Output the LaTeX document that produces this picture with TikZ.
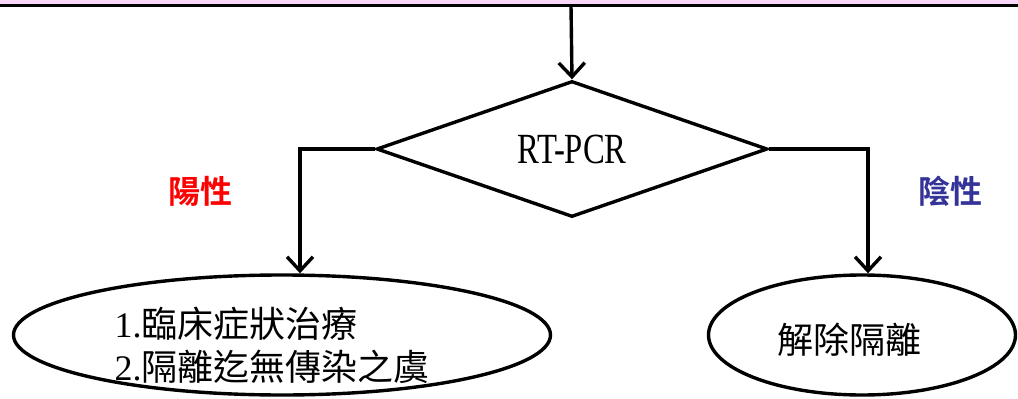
\documentclass[tikz,border=0pt]{standalone}
\usepackage{fontspec}
\setmainfont{Liberation Serif}
\newfontfamily\cjk[BoldFont={Noto Sans CJK TC Bold}]{Noto Sans CJK TC}
\newfontfamily\rtfont[FakeStretch=0.76]{Liberation Serif}
\usetikzlibrary{
  arrows.meta,
  positioning,
  shapes.geometric,
}
\definecolor{posred}{RGB}{255,0,0}
\definecolor{negblue}{RGB}{51,51,153}
\definecolor{strippink}{RGB}{248,215,248}
\tikzset{
  flow/.style = {line width=3.4pt,
      -{Straight Barb[length=14pt, width=26pt]}},
  decide/.style = {diamond, draw, line width=3.4pt, aspect=2.875,
      minimum width=391pt, minimum height=136pt,
      inner sep=0pt, font=\rtfont\fontsize{43}{43}\selectfont},
  oval/.style = {ellipse, draw, line width=3.4pt,
      minimum height=120pt, inner sep=0pt},
  ovaltext/.style = {align=left, inner sep=0pt,
      font=\cjk\fontsize{36}{43}\selectfont},
  verdict/.style = {inner sep=0pt,
      font=\cjk\bfseries\fontsize{32}{32}\selectfont},
}

\begin{document}
\begin{tikzpicture}[x=1pt, y=-1pt]
  \useasboundingbox (0,0) rectangle (1018,399);

  % strip and rule along the top edge
  \fill[strippink] (0,0) rectangle (1018,4);
  \draw[line width=3.5pt] (0,5.5) -- (1018,5.5);
  \coordinate (feed) at (571,5.5);

  \node[decide] (pcr) at (572,149) {RT-PCR};

  \node[oval, minimum width=537pt] (treat) at (282,335) {};
  \node[oval, minimum width=307pt] (release) at (862,335) {};

  \node[ovaltext] (treattext) at (272,345)
    {\textrm{1.}臨床症狀治療\\\textrm{2.}隔離迄無傳染之虞};
  \node[ovaltext] (releasetext) at (849,340) {解除隔離};

  \coordinate (lbend) at (300,149);
  \coordinate (rbend) at (868,149);

  \node[verdict, posred] (pos) at (200,191) {陽性};
  \node[verdict, negblue] (neg) at (950,191) {陰性};

  \draw[flow] (feed) -- (pcr.north);
  \draw[flow] (pcr.west) -- (lbend) -- (lbend |- treat.north);
  \draw[flow] (pcr.east) -- (rbend) -- (rbend |- release.north);
\end{tikzpicture}
\end{document}
